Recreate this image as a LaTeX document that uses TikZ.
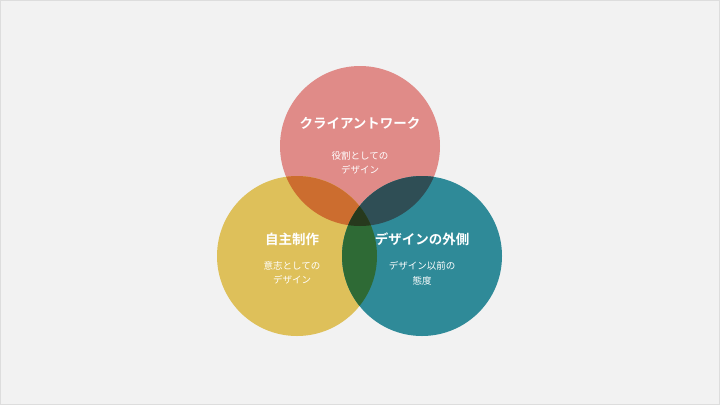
\documentclass[tikz,border=0pt]{standalone}
\usepackage{fontspec}
\setmainfont{Noto Sans CJK JP}[BoldFont={Noto Sans CJK JP Bold}]
\usepackage{xcolor}
\usetikzlibrary{positioning}

\definecolor{tlo}{HTML}{F2F2F2}
\definecolor{ramka}{HTML}{DDDDDD}
\definecolor{roz}{HTML}{E08B88}
\definecolor{zolty}{HTML}{DEC05A}
\definecolor{morski}{HTML}{2F8A98}
\definecolor{pomarancz}{HTML}{CC6D2F}
\definecolor{lupek}{HTML}{2F4E55}
\definecolor{zielony}{HTML}{2E6A35}
\definecolor{srodek}{HTML}{27391D}

\tikzset{
    kolo/.style={circle, minimum size=160pt, inner sep=0pt},
    tytul/.style={text=white, font=\bfseries\fontsize{13.5}{16}\selectfont},
    opis/.style={text=white, font=\fontsize{9.5}{14.5}\selectfont, align=center},
}

\begin{document}
\begin{tikzpicture}[x=1pt,y=-1pt]
    \fill[tlo] (0,0) rectangle (720,405);
    \draw[ramka, line width=0.8pt] (0.4,0.4) rectangle (719.6,404.6);
    \useasboundingbox (0,0) rectangle (720,405);

    \node[kolo, fill=roz] (klient) at (360,146) {};
    \node[kolo, fill=zolty] (wlasny) at (297,256) {};
    \node[kolo, fill=morski] (zewn) at (422,256) {};

    \begin{scope}
        \clip (klient.center) circle[radius=80];
        \fill[pomarancz] (wlasny.center) circle[radius=80];
        \fill[lupek] (zewn.center) circle[radius=80];
    \end{scope}
    \begin{scope}
        \clip (wlasny.center) circle[radius=80];
        \fill[zielony] (zewn.center) circle[radius=80];
        \clip (zewn.center) circle[radius=80];
        \fill[srodek] (klient.center) circle[radius=80];
    \end{scope}

    \node[tytul] (klientT) at (360,123) {クライアントワーク};
    \node[opis, below=15pt of klientT] (klientO) {役割としての\\デザイン};

    \node[tytul] (wlasnyT) at (292,239) {自主制作};
    \node[opis, below=9pt of wlasnyT] (wlasnyO) {意志としての\\デザイン};

    \node[tytul] (zewnT) at (422,239) {デザインの外側};
    \node[opis, below=9pt of zewnT] (zewnO) {デザイン以前の\\態度};
\end{tikzpicture}
\end{document}
